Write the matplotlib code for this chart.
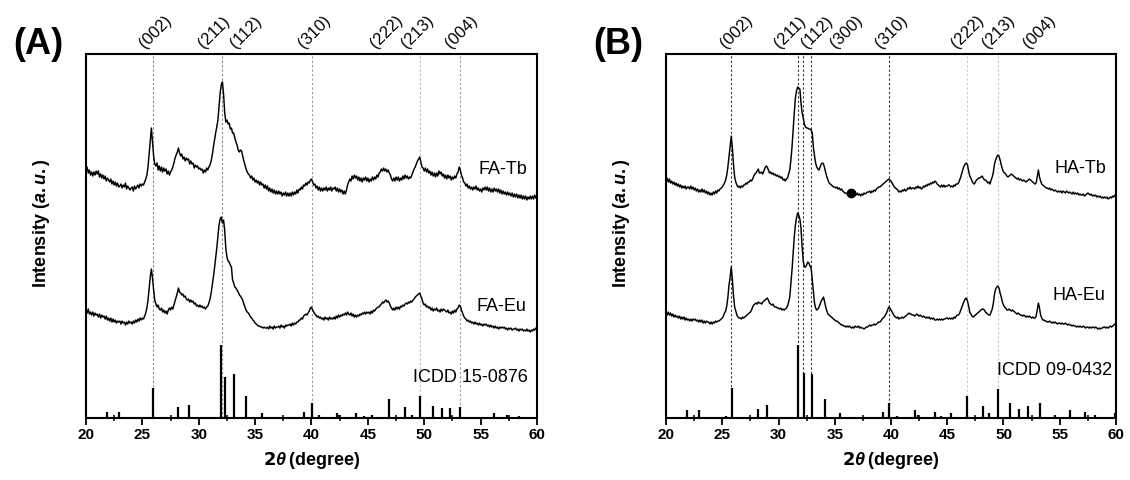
import numpy as np
import matplotlib
matplotlib.use("Agg")
from matplotlib import pyplot as plt
from matplotlib.ticker import MultipleLocator

plt.rcParams['font.family'] = ['Liberation Sans', 'DejaVu Sans']
plt.rcParams['mathtext.fontset'] = 'custom'
plt.rcParams['mathtext.it'] = 'Liberation Sans:italic:bold'
plt.rcParams['mathtext.rm'] = 'Liberation Sans:bold'

# 2theta grid of the scans, 20-60 deg, 0.1 deg step
two_theta = np.round(20 + 0.1 * np.arange(401), 1)

# ---- (A) fluorapatite ----
fa_tb = [247, 251, 245, 248, 243, 246, 242, 246, 243, 247,
         244, 247, 241, 244, 240, 243, 239, 242, 237, 240,
         238, 236, 239, 234, 237, 233, 236, 232, 235, 231,
         232, 234, 230, 233, 231, 235, 229, 232, 230, 228,
         230, 231, 227, 232, 229, 231, 233, 230, 234, 232,
         234, 233, 236, 239, 243, 251, 264, 278, 290, 276,
         262, 254, 252, 255, 248, 252, 247, 251, 246, 250,
         247, 249, 244, 247, 243, 246, 248, 251, 255, 260,
         263, 266, 270, 265, 262, 264, 259, 261, 257, 260,
         258, 259, 254, 257, 254, 255, 250, 253, 251, 252,
         249, 250, 248, 249, 245, 248, 246, 250, 248, 251,
         253, 257, 263, 271, 278, 285, 291, 298, 311, 325,
         333, 336, 324, 306, 296, 298, 294, 295, 289, 290,
         285, 285, 280, 276, 273, 268, 266, 268, 267, 262,
         257, 253, 249, 246, 244, 243, 240, 242, 238, 240,
         236, 238, 235, 237, 233, 236, 233, 234, 230, 233,
         229, 232, 227, 230, 226, 229, 225, 228, 224, 227,
         224, 227, 224, 226, 222, 225, 223, 226, 222, 225,
         222, 225, 222, 226, 223, 226, 224, 228, 225, 229,
         228, 231, 229, 233, 232, 235, 233, 236, 235, 238,
         239, 236, 233, 234, 230, 232, 228, 231, 227, 230,
         227, 230, 228, 231, 227, 230, 228, 231, 227, 230,
         229, 231, 227, 230, 226, 229, 226, 228, 224, 227,
         224, 228, 233, 236, 239, 237, 242, 239, 243, 240,
         242, 238, 241, 237, 240, 236, 240, 238, 241, 237,
         240, 236, 239, 237, 241, 238, 241, 239, 243, 241,
         245, 246, 249, 247, 250, 247, 249, 246, 248, 245,
         243, 239, 237, 240, 237, 241, 238, 241, 237, 240,
         238, 242, 239, 243, 240, 242, 239, 241, 240, 243,
         246, 249, 251, 254, 257, 259, 261, 256, 251, 250,
         247, 250, 246, 249, 245, 247, 243, 246, 242, 245,
         241, 245, 242, 247, 244, 246, 242, 244, 240, 243,
         239, 243, 240, 242, 238, 241, 239, 242, 240, 244,
         246, 251, 248, 243, 240, 236, 235, 232, 234, 230,
         232, 229, 231, 228, 231, 229, 232, 228, 230, 227,
         229, 226, 230, 228, 231, 228, 231, 227, 230, 226,
         229, 226, 230, 227, 229, 226, 229, 225, 228, 224,
         227, 224, 226, 223, 226, 223, 225, 222, 225, 221,
         224, 221, 224, 220, 223, 220, 223, 219, 222, 219,
         222, 218, 221, 219, 222, 219, 222, 219, 223, 220,
         222]
fa_eu = [108, 105, 109, 104, 106, 103, 106, 102, 105, 103,
         104, 101, 104, 100, 103, 101, 102, 99, 102, 98,
         100, 97, 100, 96, 99, 96, 98, 95, 97, 96,
         97, 94, 97, 95, 96, 93, 96, 94, 97, 95,
         96, 94, 97, 95, 98, 96, 99, 97, 100, 98,
         100, 99, 102, 105, 110, 118, 130, 141, 149, 140,
         128, 118, 114, 111, 113, 109, 108, 110, 106, 108,
         105, 107, 104, 108, 110, 108, 111, 109, 113, 117,
         121, 125, 130, 126, 125, 123, 124, 121, 122, 119,
         118, 119, 116, 118, 116, 117, 114, 115, 112, 113,
         111, 113, 111, 112, 110, 111, 109, 111, 112, 115,
         119, 125, 133, 141, 150, 160, 170, 181, 193, 199,
         201, 195, 198, 188, 170, 161, 157, 156, 153, 151,
         138, 135, 131, 130, 128, 126, 123, 122, 120, 118,
         114, 111, 108, 106, 105, 103, 101, 100, 98, 97,
         95, 94, 93, 92, 92, 91, 91, 90, 91, 90,
         90, 91, 89, 92, 90, 91, 89, 92, 90, 91,
         91, 92, 90, 93, 91, 92, 90, 93, 92, 93,
         93, 94, 92, 95, 93, 95, 94, 96, 96, 98,
         98, 100, 99, 102, 103, 104, 103, 105, 107, 110,
         111, 108, 106, 104, 103, 101, 102, 100, 101, 99,
         100, 98, 101, 99, 100, 98, 101, 99, 100, 99,
         101, 99, 102, 100, 103, 101, 103, 102, 104, 103,
         105, 103, 106, 104, 103, 105, 102, 104, 101, 103,
         101, 103, 102, 104, 103, 105, 104, 106, 104, 106,
         105, 106, 104, 107, 105, 108, 107, 109, 110, 111,
         111, 113, 114, 116, 115, 117, 118, 116, 117, 115,
         112, 110, 108, 110, 108, 111, 109, 111, 109, 112,
         111, 113, 112, 114, 115, 114, 116, 115, 117, 116,
         118, 119, 121, 122, 123, 124, 125, 122, 119, 115,
         113, 114, 111, 112, 110, 111, 108, 110, 107, 109,
         108, 110, 107, 108, 106, 109, 107, 109, 108, 107,
         106, 108, 105, 106, 104, 107, 105, 108, 106, 109,
         110, 113, 112, 108, 105, 102, 100, 99, 97, 98,
         96, 97, 95, 96, 94, 96, 94, 95, 93, 95,
         93, 94, 92, 94, 93, 94, 92, 93, 91, 93,
         91, 92, 90, 92, 90, 91, 89, 91, 90, 91,
         90, 91, 89, 90, 88, 90, 89, 90, 88, 89,
         89, 90, 88, 89, 87, 89, 88, 89, 87, 88,
         87, 89, 87, 88, 86, 88, 87, 89, 88, 90,
         90]

# ICDD 15-0876 reference lines
fa_ref_pos = [21.89, 22.96, 25.5, 25.91, 28.19, 29.13, 31.94, 32.30, 33.15, 34.16, 35.64,
              39.33, 40.04, 40.63, 42.23, 42.47, 43.91, 44.68, 45.39, 46.87, 48.26, 48.88,
              49.62, 50.77, 51.57, 52.31, 53.14, 54.47, 56.15, 57.33, 58.37, 59.14]
fa_ref_int = [6.3, 6.3, 1.3, 30, 10.7, 13.3, 73, 40.7, 44, 22.3, 4.7, 6.3, 15, 3, 4.7, 2.7,
              4.7, 1.7, 3.3, 18.7, 10.7, 3, 22, 11.7, 10.3, 10.3, 11.3, 1.3, 4.7, 3, 1.7, 1.3]

fa_lines = [25.93, 32.1, 40.05, 49.6, 53.15]
fa_line_col = ['#888888', '#888888', '#999999', '#bbbbbb', '#999999']
fa_hkl = ['(002)', '(211)', '(112)', '(310)', '(222)', '(213)', '(004)']
fa_hkl_x = [26.2, 31.35, 34.2, 40.3, 46.7, 49.45, 53.3]

# ---- (B) hydroxyapatite ----
ha_tb = [238, 240, 236, 239, 235, 237, 234, 236, 233, 235,
         232, 234, 231, 233, 230, 232, 230, 232, 229, 231,
         231, 229, 232, 229, 231, 228, 230, 227, 229, 226,
         228, 226, 229, 226, 228, 225, 227, 224, 226, 223,
         225, 223, 226, 224, 227, 225, 228, 227, 229, 230,
         231, 233, 235, 238, 243, 251, 262, 272, 282, 270,
         253, 241, 236, 233, 231, 232, 230, 232, 231, 233,
         233, 235, 234, 236, 236, 238, 237, 239, 242, 244,
         245, 247, 249, 245, 245, 246, 244, 247, 250, 252,
         251, 248, 245, 246, 244, 245, 243, 244, 242, 243,
         241, 242, 240, 241, 238, 239, 237, 239, 240, 244,
         248, 258, 271, 288, 305, 320, 327, 331, 330, 329,
         315, 305, 300, 294, 291, 290, 290, 289, 289, 288,
         285, 271, 262, 255, 251, 249, 248, 251, 254, 255,
         254, 250, 245, 241, 238, 235, 234, 233, 232, 231,
         231, 230, 231, 229, 230, 228, 229, 227, 226, 225,
         225, 224, 225, 224, 225, 223, 224, 222, 223, 223,
         225, 223, 224, 222, 224, 223, 225, 224, 225, 226,
         226, 227, 225, 227, 226, 228, 227, 229, 230, 231,
         231, 232, 233, 234, 235, 236, 237, 238, 239, 238,
         237, 235, 233, 231, 230, 229, 228, 226, 227, 226,
         228, 227, 229, 227, 228, 230, 229, 231, 229, 230,
         230, 229, 231, 230, 232, 230, 231, 229, 230, 232,
         231, 233, 232, 234, 233, 235, 234, 236, 235, 237,
         236, 234, 233, 232, 231, 233, 231, 233, 231, 232,
         232, 233, 233, 231, 232, 231, 233, 232, 234, 234,
         235, 238, 241, 245, 249, 252, 254, 255, 253, 247,
         242, 240, 237, 235, 234, 236, 238, 239, 240, 240,
         241, 242, 240, 238, 238, 237, 235, 236, 234, 238,
         241, 246, 254, 258, 261, 263, 262, 258, 253, 249,
         246, 245, 244, 242, 241, 242, 243, 244, 243, 242,
         241, 240, 239, 240, 238, 239, 238, 237, 238, 237,
         236, 237, 238, 239, 238, 237, 236, 235, 234, 235,
         241, 248, 241, 237, 234, 233, 232, 231, 230, 230,
         229, 230, 228, 229, 228, 227, 228, 227, 226, 227,
         226, 227, 225, 227, 226, 225, 227, 226, 225, 226,
         225, 224, 226, 224, 225, 224, 225, 223, 224, 223,
         223, 224, 222, 223, 224, 225, 224, 223, 224, 222,
         223, 222, 223, 221, 222, 221, 222, 220, 221, 220,
         221, 220, 221, 219, 220, 221, 220, 222, 221, 223,
         223]
ha_eu = [105, 103, 106, 103, 105, 102, 104, 101, 103, 101,
         102, 100, 102, 99, 101, 99, 101, 98, 100, 98,
         99, 97, 99, 97, 99, 98, 99, 97, 98, 96,
         98, 96, 98, 95, 97, 95, 97, 96, 96, 94,
         96, 94, 96, 95, 97, 96, 97, 97, 98, 99,
         100, 102, 105, 107, 112, 121, 133, 141, 151, 138,
         122, 111, 107, 103, 101, 100, 100, 99, 101, 100,
         101, 102, 103, 104, 105, 106, 108, 111, 113, 114,
         115, 114, 116, 115, 115, 114, 116, 117, 118, 119,
         120, 118, 115, 114, 113, 114, 112, 111, 111, 110,
         110, 109, 110, 108, 109, 108, 109, 110, 112, 116,
         121, 134, 148, 165, 181, 193, 200, 205, 203, 199,
         190, 171, 157, 151, 151, 153, 156, 155, 152, 150,
         138, 125, 115, 110, 108, 109, 111, 114, 117, 119,
         121, 116, 111, 107, 104, 103, 102, 101, 100, 99,
         98, 97, 97, 96, 95, 94, 93, 93, 92, 92,
         91, 92, 91, 92, 91, 90, 91, 90, 92, 91,
         91, 92, 90, 91, 90, 90, 89, 90, 91, 91,
         92, 93, 92, 93, 93, 94, 93, 94, 95, 96,
         96, 97, 99, 100, 101, 103, 105, 108, 111, 110,
         108, 106, 104, 102, 101, 100, 101, 99, 100, 100,
         101, 100, 101, 102, 103, 104, 105, 104, 104, 103,
         103, 102, 103, 104, 103, 102, 103, 102, 101, 102,
         101, 100, 101, 100, 101, 99, 100, 99, 100, 98,
         98, 99, 98, 99, 98, 99, 98, 99, 99, 100,
         100, 99, 100, 99, 100, 99, 101, 100, 102, 103,
         103, 105, 108, 111, 114, 117, 119, 120, 117, 112,
         106, 104, 102, 101, 102, 103, 104, 105, 106, 107,
         108, 109, 109, 108, 106, 105, 104, 103, 103, 106,
         109, 115, 124, 129, 131, 132, 130, 125, 121, 116,
         113, 111, 110, 108, 108, 109, 108, 107, 108, 107,
         106, 105, 104, 105, 104, 103, 103, 102, 103, 102,
         101, 102, 101, 102, 101, 100, 101, 100, 100, 102,
         108, 115, 110, 103, 100, 98, 98, 97, 97, 96,
         96, 97, 96, 95, 96, 95, 96, 95, 94, 95,
         95, 94, 95, 94, 94, 95, 94, 93, 94, 93,
         93, 92, 93, 92, 92, 91, 92, 91, 92, 91,
         91, 92, 91, 90, 91, 91, 90, 91, 90, 91,
         91, 90, 91, 90, 89, 90, 89, 90, 90, 91,
         91, 90, 91, 90, 91, 92, 91, 92, 93, 94,
         95]
ha_dot = (36.41, 224.7)

# ICDD 09-0432 reference lines
ha_ref_pos = [21.84, 22.93, 25.33, 25.84, 28.15, 28.98, 31.76, 32.24, 32.95, 34.10, 35.50,
              39.29, 39.85, 40.50, 42.10, 42.37, 43.88, 44.44, 45.36, 46.78, 48.18, 48.71,
              49.54, 50.58, 51.38, 52.18, 53.21, 54.55, 55.94, 57.21, 58.16, 59.94]
ha_ref_int = [8, 8, 2, 30, 9.3, 13.3, 73, 45.3, 44, 18.7, 4.7, 6.3, 15, 2, 8, 3, 6.3, 2,
              4.7, 22.3, 11.7, 4.7, 29.3, 15, 9.3, 11.7, 15, 3, 8, 6.3, 3, 4.7]

ha_lines = [25.81, 31.73, 32.22, 32.85, 39.82, 46.77, 49.49]
ha_line_col = ['#333333', '#333333', '#333333', '#333333', '#333333', '#c8c8c8', '#c8c8c8']
ha_hkl = ['(002)', '(211)', '(112)', '(300)', '(310)', '(222)', '(213)', '(004)']
ha_hkl_x = [26.28, 31.0, 33.4, 36.0, 40.07, 46.8, 49.6, 53.2]


fig = plt.figure(figsize=(11.3, 4.8), dpi=100)
axA = fig.add_axes([0.0761, 0.129, 0.3991, 0.7585])
axB = fig.add_axes([0.5894, 0.129, 0.3982, 0.7585])


def panel(ax, top, bottom, ref_pos, ref_int, lines, line_col, hkl, hkl_x,
          names, name_y, icdd, icdd_x, icdd_y, tag):
    for lx, c in zip(lines, line_col):
        ax.axvline(lx, color=c, ls=(0, (2, 2)), lw=0.8, zorder=1)
    ax.plot(two_theta, top, color='black', lw=1.05, zorder=3)
    ax.plot(two_theta, bottom, color='black', lw=1.05, zorder=3)
    ax.vlines(ref_pos, 0, ref_int, color='black', lw=1.6, zorder=3)
    ax.set_xlim(20, 60)
    ax.set_ylim(0, 364)
    ax.set_yticks([])
    ax.xaxis.set_major_locator(MultipleLocator(5))
    ax.xaxis.set_minor_locator(MultipleLocator(2.5))
    ax.tick_params(axis='x', which='major', direction='out', length=5, width=1.3,
                   labelsize=11, pad=2)
    ax.tick_params(axis='x', which='minor', direction='inout', length=5, width=1.1)
    for lab in ax.get_xticklabels():
        lab.set_fontweight('bold')
    for s in ax.spines.values():
        s.set_linewidth(1.5)
    ax.set_xlabel(r'$\mathbf{2}\mathit{\theta}\,$(degree)', fontsize=13,
                  fontweight='bold', labelpad=6)
    ax.set_ylabel(r'Intensity ($\mathit{a.u.}$)', fontsize=13, fontweight='bold')
    ax.yaxis.set_label_coords(-0.075, 0.535)
    for h, hx in zip(hkl, hkl_x):
        ax.annotate(h, xy=(hx, 1), xycoords=('data', 'axes fraction'),
                    xytext=(0, 2), textcoords='offset points', rotation=45,
                    ha='center', va='bottom', fontsize=12)
    ax.text(59.1, name_y[0], names[0], ha='right', va='center', fontsize=13)
    ax.text(59.1, name_y[1], names[1], ha='right', va='center', fontsize=13)
    ax.text(icdd_x, icdd_y, icdd, ha='right', va='center', fontsize=13)
    ax.text(-0.106, 1.025, tag, transform=ax.transAxes, ha='center', va='center',
            fontsize=26, fontweight='bold')


panel(axA, fa_tb, fa_eu, fa_ref_pos, fa_ref_int, fa_lines, fa_line_col,
      fa_hkl, fa_hkl_x, ['FA-Tb', 'FA-Eu'], [249, 112], 'ICDD 15-0876', 59.2, 41, '(A)')
panel(axB, ha_tb, ha_eu, ha_ref_pos, ha_ref_int, ha_lines, ha_line_col,
      ha_hkl, ha_hkl_x, ['HA-Tb', 'HA-Eu'], [250, 123], 'ICDD 09-0432', 59.7, 48, '(B)')
axB.plot(*ha_dot, 'o', color='black', ms=6, zorder=4)

fig.savefig('out.png', dpi=100)
